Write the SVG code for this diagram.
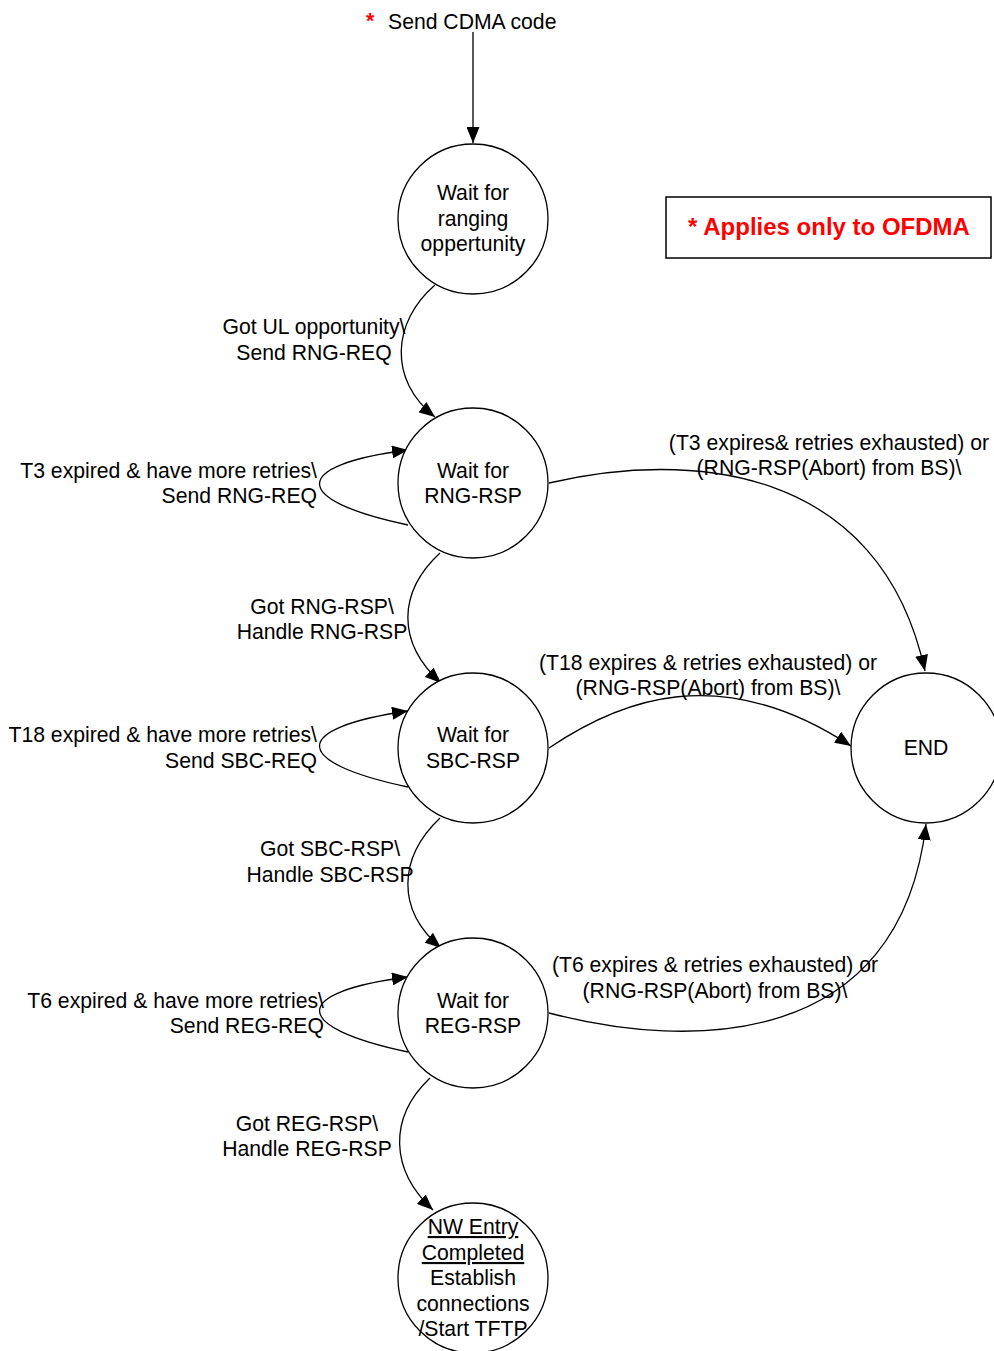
<svg xmlns="http://www.w3.org/2000/svg" width="994" height="1351" viewBox="0 0 994 1351">
<defs>
<marker id="arr" markerWidth="16" markerHeight="13" refX="16" refY="6.5" orient="auto" markerUnits="userSpaceOnUse">
<path d="M0,0 L16,6.5 L0,13 Z" fill="#000"/>
</marker>
<style>
text{font-family:"Liberation Sans",Arial,sans-serif;font-size:21.2px;fill:#000}
.c{text-anchor:middle}
.r{text-anchor:end}
.node circle{fill:#fff;stroke:#000;stroke-width:1.3}
#connectors path{fill:none;stroke:#000;stroke-width:1.3;marker-end:url(#arr)}
</style>
</defs>
<rect width="994" height="1351" fill="#fff"/>
<g id="note">
<rect x="666" y="197" width="325" height="61" fill="#fff" stroke="#000" stroke-width="1.5"/>
<text x="829" y="235" class="c" style="font-weight:bold;fill:#ff0000;font-size:24px">* Applies only to OFDMA</text>
</g>
<g id="start">
<text x="366" y="28" style="fill:#ff0000;font-weight:bold">*</text>
<text x="388" y="29">Send CDMA code</text>
</g>
<g id="connectors">
<path d="M473,32 L473,143"/>
<path d="M435,285 C392,322 388,380 435,417"/>
<path d="M408,525 C290,500 290,465 408,450"/>
<path d="M440,553 C398,592 396,642 441,683"/>
<path d="M408,787 C290,762 290,728 408,711"/>
<path d="M440,818 C398,858 396,910 441,948"/>
<path d="M408,1052 C290,1027 290,992 408,977"/>
<path d="M430,1078 C388,1118 390,1170 433,1210"/>
<path d="M549,483 C690,450 880,465 925,671"/>
<path d="M549,748 C620,700 720,660 851,746"/>
<path d="M549,1013 C690,1050 900,1050 926,824"/>
</g>
<g id="labels">
<text x="314" y="334" class="c">Got UL opportunity\</text>
<text x="314" y="360" class="c">Send RNG-REQ</text>
<text x="317" y="478" class="r">T3 expired &amp; have more retries\</text>
<text x="317" y="503" class="r">Send RNG-REQ</text>
<text x="322" y="614" class="c">Got RNG-RSP\</text>
<text x="322" y="639" class="c">Handle RNG-RSP</text>
<text x="317" y="742" class="r">T18 expired &amp; have more retries\</text>
<text x="317" y="768" class="r">Send SBC-REQ</text>
<text x="330" y="856" class="c">Got SBC-RSP\</text>
<text x="330" y="882" class="c">Handle SBC-RSP</text>
<text x="324" y="1008" class="r">T6 expired &amp; have more retries\</text>
<text x="324" y="1033" class="r">Send REG-REQ</text>
<text x="307" y="1131" class="c">Got REG-RSP\</text>
<text x="307" y="1156" class="c">Handle REG-RSP</text>
<text x="829" y="450" class="c">(T3 expires&amp; retries exhausted) or</text>
<text x="829" y="475" class="c">(RNG-RSP(Abort) from BS)\</text>
<text x="708" y="670" class="c">(T18 expires &amp; retries exhausted) or</text>
<text x="708" y="695" class="c">(RNG-RSP(Abort) from BS)\</text>
<text x="715" y="972" class="c">(T6 expires &amp; retries exhausted) or</text>
<text x="715" y="998" class="c">(RNG-RSP(Abort) from BS)\</text>
</g>
<g id="n1" class="node">
<circle cx="473" cy="219" r="75"/>
<text x="473" y="200" class="c">Wait for</text>
<text x="473" y="226" class="c">ranging</text>
<text x="473" y="251" class="c">oppertunity</text>
</g>
<g id="n2" class="node">
<circle cx="473" cy="483" r="75"/>
<text x="473" y="478" class="c">Wait for</text>
<text x="473" y="503" class="c">RNG-RSP</text>
</g>
<g id="n3" class="node">
<circle cx="473" cy="748" r="75"/>
<text x="473" y="742" class="c">Wait for</text>
<text x="473" y="768" class="c">SBC-RSP</text>
</g>
<g id="n4" class="node">
<circle cx="473" cy="1013" r="75"/>
<text x="473" y="1008" class="c">Wait for</text>
<text x="473" y="1033" class="c">REG-RSP</text>
</g>
<g id="end" class="node">
<circle cx="926" cy="748" r="75"/>
<text x="926" y="755" class="c">END</text>
</g>
<g id="n5" class="node">
<circle cx="473" cy="1278" r="75"/>
<text x="473" y="1234" class="c" text-decoration="underline">NW Entry</text>
<text x="473" y="1260" class="c" text-decoration="underline">Completed</text>
<text x="473" y="1285" class="c">Establish</text>
<text x="473" y="1311" class="c">connections</text>
<text x="473" y="1336" class="c">/Start TFTP</text>
</g>
</svg>
